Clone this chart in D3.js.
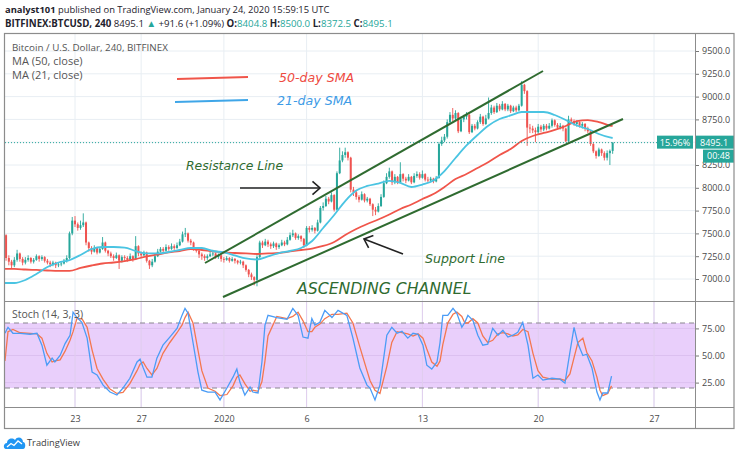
<!DOCTYPE html>
<html><head><meta charset="utf-8">
<script src="https://cdn.jsdelivr.net/npm/d3@7"></script>
<style>body{margin:0;background:#fff}svg{display:block}</style>
</head><body><svg id="c" width="740" height="457"></svg>
<script>
// ---------- DATA (BITFINEX:BTCUSD 240, first candle 2019-12-18 16:00 UTC) ----------
const firstOpen = 6990;
const closes = [
7480,7230,
7190,7150,7210,7280,7220,7180, 7210,7230,7190,7210,7250,7220, 7240,7200,7180,7160,7180,7150,
7160,7170,7200,7230,7500,7640, 7600,7560,7590,7620,7400,7340, 7300,7340,7290,7330,7400,7310,
7280,7250,7230,7260,7200,7240, 7230,7210,7250,7220,7360,7280, 7260,7290,7200,7150,7190,7250,
7300,7330,7310,7350,7330,7360, 7340,7370,7410,7490,7500,7420, 7400,7330,7310,7270,7250,7230,
7250,7270,7280,7240,7260,7220, 7210,7230,7200,7220,7200,7180, 7190,7150,7100,7050,7020,6990,
7240,7400,7370,7410,7380,7360, 7390,7350,7370,7400,7380,7430, 7480,7500,7450,7470,7440,7370,
7560,7540,7560,7530,7620,7780, 7800,7880,7850,7920,7760,8160, 8300,8360,8390,8330,7980,7950,
7900,7870,7930,7860,7880,7820, 7760,7740,7800,7900,8050,8120, 8180,8060,8120,8060,8150,8100,
8080,8120,8060,8130,8150,8110, 8150,8090,8080,8100,8070,8110, 8480,8520,8560,8720,8800,8760,
8820,8620,8750,8780,8800,8610, 8680,8650,8720,8780,8700,8760, 8820,8880,8830,8900,8860,8920,
8860,8900,8840,8880,8850,8900, 9130,9060,8660,8650,8630,8610, 8670,8640,8680,8650,8680,8740,
8690,8660,8680,8650,8510,8750, 8730,8700,8720,8680,8700,8650, 8620,8480,8400,8350,8420,8380,
8330,8380,8404.8,8495.1];
const highs = [
7510,7490,
7260,7210,7240,7320,7290,7240, 7240,7260,7240,7230,7270,7260, 7260,7250,7220,7200,7200,7190,
7180,7190,7220,7260,7520,7680, 7690,7620,7640,7720,7630,7410, 7360,7370,7350,7350,7460,7410,
7320,7300,7270,7290,7270,7260, 7260,7250,7280,7260,7470,7370, 7300,7310,7300,7210,7220,7280,
7330,7350,7350,7380,7370,7390, 7380,7400,7440,7520,7560,7510, 7440,7410,7350,7320,7290,7270,
7270,7300,7320,7290,7280,7270, 7240,7250,7240,7240,7230,7210, 7210,7200,7160,7110,7070,7030,
7260,7420,7420,7440,7430,7400, 7410,7400,7390,7430,7420,7460, 7510,7540,7510,7490,7480,7450,
7580,7580,7590,7570,7650,7800, 7840,7910,7900,7950,7930,8180, 8440,8400,8440,8400,8340,8010,
7970,7920,7960,7940,7900,7890, 7830,7790,7830,7930,8080,8160, 8220,8190,8150,8130,8280,8160,
8120,8150,8130,8160,8180,8170, 8190,8160,8120,8120,8110,8130, 8500,8560,8590,8750,8830,8875,
8850,8830,8780,8800,8830,8810, 8700,8700,8740,8810,8790,8800, 8990,8910,8900,8930,8920,8950,
8930,8920,8910,8900,8900,8920, 9170,9140,9070,8700,8680,8660, 8700,8690,8700,8700,8710,8760,
8750,8710,8710,8690,8660,8790, 8770,8750,8740,8730,8720,8710, 8670,8630,8490,8410,8440,8430,
8400,8410,8420,8500];
const lows = [
6970,7200,
7150,7110,7130,7190,7190,7150, 7160,7190,7170,7170,7200,7190, 7200,7180,7160,7130,7140,7120,
7130,7140,7160,7180,7220,7480, 7570,7530,7540,7570,7370,7300, 7270,7290,7270,7280,7320,7290,
7250,7230,7200,7220,7110,7180, 7200,7190,7200,7190,7210,7250, 7230,7250,7180,7110,7130,7180,
7240,7290,7290,7300,7310,7320, 7320,7330,7360,7400,7460,7400, 7370,7310,7290,7230,7210,7200,
7210,7240,7250,7220,7220,7190, 7180,7200,7180,7190,7170,7160, 7160,7120,7080,7020,6990,6930,
6920,7230,7340,7360,7350,7330, 7340,7320,7330,7360,7360,7370, 7420,7460,7430,7430,7410,7340,
7360,7510,7520,7500,7520,7610, 7750,7790,7820,7840,7740,7750, 8150,8280,8330,8300,7950,7910,
7870,7840,7860,7840,7840,7800, 7690,7700,7730,7790,7890,8040, 8100,8030,8040,8040,8050,8070,
8050,8070,8040,8050,8110,8090, 8100,8070,8060,8060,8050,8060, 8100,8460,8500,8540,8700,8730,
8740,8600,8610,8720,8750,8590, 8600,8630,8640,8700,8680,8690, 8750,8800,8810,8820,8840,8850,
8840,8840,8820,8830,8830,8840, 8890,9030,8460,8600,8600,8500, 8590,8610,8620,8630,8640,8660,
8670,8640,8640,8620,8500,8500, 8700,8680,8670,8660,8650,8620, 8600,8460,8380,8320,8340,8350,
8300,8300,8250,8372.5];

// moving averages, read at every 4th candle (plus the last one)
const maIdx = [0,4,8,12,16,20,24,28,32,36,40,44,48,52,56,60,64,68,72,76,80,84,88,92,96,100,104,108,
112,116,120,124,128,132,136,140,144,148,152,156,160,164,168,172,176,180,184,188,192,196,200,204,208,212,216,220,221];
const ma21 = [6956,6956,6989,7055,7132,7181,7208,7263,7329,7351,7351,7345,7307,7280,7280,7296,7318,7340,7340,7307,
7291,7258,7225,7214,7247,7285,7307,7340,7417,7559,7702,7855,7970,8020,8047,8075,8053,8009,8036,8080,
8184,8327,8464,8579,8683,8754,8793,8831,8831,8831,8798,8743,8683,8645,8590,8552,8546];
const ma50 = [7110,7110,7104,7099,7093,7088,7088,7121,7148,7170,7181,7197,7219,7247,7269,7291,7307,7329,7318,7302,
7291,7285,7280,7274,7280,7285,7302,7318,7334,7362,7406,7482,7548,7603,7652,7707,7768,7817,7877,7932,
8009,8096,8151,8217,8283,8360,8425,8513,8568,8601,8634,8678,8732,8743,8721,8683,8678];

// stochastic (14,3,3), read at candle positions
const stochIdx = [0.6,1.7,3.5,6.1,9.7,12.2,14.0,15.8,17.7,18.7,20.6,22.4,24.2,25.3,26.7,28.5,30.4,32.2,34.0,36.2,
38.7,41.2,43.4,45.9,48.5,49.6,50.7,52.1,53.9,55.7,57.9,60.4,63.0,64.8,65.9,67.0,68.8,70.6,72.0,74.2,
76.8,78.6,81.1,83.3,84.7,85.8,87.6,89.5,90.5,92.4,93.8,94.9,96.0,99.2,102.9,105.0,106.9,108.7,110.5,111.9,
113.0,114.8,116.6,119.2,121.4,124.6,126.8,129.3,131.9,133.0,134.8,136.6,139.1,140.9,142.8,144.6,146.7,148.6,150.4,152.2,
153.6,155.4,157.3,158.4,159.4,161.2,163.1,164.5,166.3,167.4,168.5,170.3,172.1,173.9,175.7,177.5,179.4,181.2,183.0,184.8,
186.6,188.4,190.3,192.1,193.9,195.7,199.0,201.9,203.7,205.5,207.0,208.4,210.2,211.6,213.5,215.3,216.4,217.4,219.2,220.6];
const stochK = [70.5,76,70.5,70.5,69.6,70.5,59.5,41,47.5,44,50,61,68.7,90,85,80.6,66,34.7,32,22.7,
16.3,13.5,20,29,44,46.6,39,30,30,47.5,59.5,67,75,87,93.5,89,62,34.7,18,16.3,
16.3,9,20,30,37.5,25.5,13.5,21,16.3,15.4,44,78,87,85,83.4,93.5,87,67,66,84,
78,80.6,91.6,85,91.6,87,66,38.5,22.7,20,9,22.7,68.7,76,70.5,72.3,66,70.5,69.6,59.5,
41,37.5,44,62,87,87,93.5,89,76,80.6,87,82.4,68.7,59.5,60.4,75,68.7,73.3,67,68.7,
71.4,80.6,59.5,29,32,27.3,29,28.2,24.5,53,76,61,50,51.2,38.5,16.3,9,15.4,15.4,31];
const stochD = [45,72,74,71,70.5,70,66,52,44,45,46,54,64,72,84,84,76,55,38,28,
19,15,16,24,36,42,44,38,32,38,52,62,71,78,85,90,80,55,36,20,
17,13,14,22,30,32,24,17,18,17,26,45,68,86,84,86,90,82,72,72,
76,79,84,88,88,89,80,58,36,27,18,15,40,62,72,71,70,68,70,66,
56,44,40,45,60,80,88,90,86,80,80,84,80,68,62,64,70,71,70,68,
69,74,72,52,36,30,28,28.5,27,33,48,62,66,53,45,30,18,13,15,22];

const priceTicks = [7000,7250,7500,7750,8000,8250,8500,8750,9000,9250,9500];
const stochTicks = [25,50,75];
const timeTicks = ["2019-12-23","2019-12-27","2020-01-01","2020-01-06","2020-01-13","2020-01-20","2020-01-27"];
const timeLabels = ["23","27","2020","6","13","20","27"];
const lastPrice = 8495.1;

// ---------- LAYOUT ----------
const svg = d3.select("#c");
const L = 5, R = 695, T = 33, MB = 301, SB = 407, BB = 428.5, FR = 734;
const FONT = "'Open Sans', 'Liberation Sans', sans-serif";
const t0 = Date.UTC(2019, 11, 18, 16);
const H4 = 4 * 3600e3;
const x = d3.scaleUtc().domain([new Date(Date.UTC(2019,11,23)), new Date(Date.UTC(2020,0,27))]).range([75, 654]);
const xi = i => x(new Date(t0 + i * H4));
const y = d3.scaleLinear().domain([7000, 9500]).range([279, 51]);
const ys = d3.scaleLinear().domain([0, 100]).range([409.7, 301.3]);

svg.append("rect").attr("width", 740).attr("height", 457).attr("fill", "#fff");
const defs = svg.append("defs");
defs.append("clipPath").attr("id", "cm").append("rect").attr("x", L).attr("y", T).attr("width", R - L).attr("height", MB - T);
defs.append("clipPath").attr("id", "cs").append("rect").attr("x", L).attr("y", MB).attr("width", R - L).attr("height", SB - MB);

// grid
const grid = svg.append("g").attr("stroke", "#e8eef3").attr("stroke-width", 1);
priceTicks.forEach(p => grid.append("line").attr("x1", L).attr("x2", R).attr("y1", y(p)).attr("y2", y(p)));
timeTicks.forEach(d => { const xx = x(new Date(d + "T00:00:00Z"));
  grid.append("line").attr("x1", xx).attr("x2", xx).attr("y1", T).attr("y2", SB); });

// stoch band
const sg = svg.append("g").attr("clip-path", "url(#cs)");
sg.append("rect").attr("x", L).attr("width", R - L).attr("y", ys(80)).attr("height", ys(20) - ys(80)).attr("fill", "#e9cffb");
stochTicks.forEach(v => sg.append("line").attr("x1", L).attr("x2", R).attr("y1", ys(v)).attr("y2", ys(v)).attr("stroke", "#dcc0f0"));
timeTicks.forEach(d => { const xx = x(new Date(d + "T00:00:00Z"));
  sg.append("line").attr("x1", xx).attr("x2", xx).attr("y1", MB).attr("y2", SB).attr("stroke", "#e0cdee"); });
[80, 20].forEach(v => sg.append("line").attr("x1", L).attr("x2", R).attr("y1", ys(v)).attr("y2", ys(v))
  .attr("stroke", "#8a8590").attr("stroke-width", 1.2).attr("stroke-dasharray", "5,4"));
const sline = vals => d3.line().x((d, i) => xi(stochIdx[i])).y(d => ys(d))(vals);
sg.append("path").attr("d", sline(stochD)).attr("fill", "none").attr("stroke", "#f4774f").attr("stroke-width", 1.3);
sg.append("path").attr("d", sline(stochK)).attr("fill", "none").attr("stroke", "#4b9cf6").attr("stroke-width", 1.3);

// candles
const mg = svg.append("g").attr("clip-path", "url(#cm)");
const GREEN = "#26a69a", RED = "#ef5350";
closes.forEach((c, i) => {
  const o = i === 0 ? firstOpen : closes[i - 1];
  const col = c >= o ? GREEN : RED;
  const cx = xi(i);
  mg.append("line").attr("x1", cx).attr("x2", cx).attr("y1", y(highs[i])).attr("y2", y(lows[i])).attr("stroke", col).attr("stroke-width", 0.9);
  const top = y(Math.max(o, c)), bot = y(Math.min(o, c));
  mg.append("rect").attr("x", cx - 1).attr("width", 2).attr("y", top).attr("height", Math.max(0.8, bot - top)).attr("fill", col);
});

// moving averages
const mline = vals => d3.line().curve(d3.curveMonotoneX).x((d, i) => xi(maIdx[i])).y(d => y(d))(vals);
mg.append("path").attr("d", mline(ma50)).attr("fill", "none").attr("stroke", "#f0554a").attr("stroke-width", 1.8);
mg.append("path").attr("d", mline(ma21)).attr("fill", "none").attr("stroke", "#4ac4e2").attr("stroke-width", 1.8);

// last price dotted line
mg.append("line").attr("x1", L).attr("x2", 657).attr("y1", y(lastPrice)).attr("y2", y(lastPrice))
  .attr("stroke", GREEN).attr("stroke-width", 1).attr("stroke-dasharray", "1,2");

// channel lines
const DG = "#2f6b30";
const ann = svg.append("g");
ann.append("line").attr("x1", 205).attr("y1", 263).attr("x2", 543).attr("y2", 71).attr("stroke", DG).attr("stroke-width", 2);
ann.append("line").attr("x1", 223).attr("y1", 297).attr("x2", 623).attr("y2", 119).attr("stroke", DG).attr("stroke-width", 2);

// legend-lines for SMAs
ann.append("line").attr("x1", 177).attr("y1", 79).attr("x2", 248).attr("y2", 77).attr("stroke", "#f0554a").attr("stroke-width", 2);
ann.append("line").attr("x1", 175).attr("y1", 102).attr("x2", 248).attr("y2", 100).attr("stroke", "#3fa6e8").attr("stroke-width", 2);
const AF = "'DejaVu Sans', Verdana, sans-serif";
const atext = (t, xx, yy, size, col) => ann.append("text").attr("x", xx).attr("y", yy).attr("font-family", AF)
  .attr("font-style", "italic").attr("font-size", size).attr("fill", col).text(t);
atext("50-day SMA", 279, 82, 12.6, "#ee4b3f");
atext("21-day SMA", 277, 105, 12.6, "#3d9be6");
atext("Resistance Line", 186, 170, 12.4, DG);
atext("Support Line", 425, 263, 12.6, DG);
atext("ASCENDING CHANNEL", 297, 294, 15.7, DG);

// arrows
function arrow(x1, y1, x2, y2) {
  const a = Math.atan2(y2 - y1, x2 - x1), len = 10, sp = 0.72;
  ann.append("line").attr("x1", x1).attr("y1", y1).attr("x2", x2).attr("y2", y2).attr("stroke", "#222").attr("stroke-width", 1.6);
  const p = [[x2 - len * Math.cos(a - sp), y2 - len * Math.sin(a - sp)], [x2, y2], [x2 - len * Math.cos(a + sp), y2 - len * Math.sin(a + sp)]];
  ann.append("path").attr("d", d3.line()(p)).attr("fill", "none").attr("stroke", "#222").attr("stroke-width", 1.6);
}
arrow(240, 188, 320, 188);
arrow(403, 254, 364, 239);

// axes
const TXT = "#4a4a4a";
const ay = svg.append("g").attr("transform", `translate(${R},0)`)
  .call(d3.axisRight(y).tickValues(priceTicks).tickFormat(d3.format(".1f")).tickSize(4).tickPadding(3));
const as = svg.append("g").attr("transform", `translate(${R},0)`)
  .call(d3.axisRight(ys).tickValues(stochTicks).tickFormat(d3.format(".2f")).tickSize(4).tickPadding(3));
const ax = svg.append("g").attr("transform", `translate(0,${SB})`)
  .call(d3.axisBottom(x).tickValues(timeTicks.map(d => new Date(d + "T00:00:00Z"))).tickFormat((d, i) => timeLabels[i]).tickSize(0).tickPadding(9));
[ay, as, ax].forEach(g => {
  g.select(".domain").remove();
  g.selectAll("line").attr("stroke", "#777");
  g.selectAll("text").attr("font-family", FONT).attr("font-size", 9).attr("fill", TXT);
});
// the tick label hidden behind the last-price label
ay.selectAll(".tick").filter(d => Math.abs(y(d) - y(lastPrice)) < 8).select("text").remove();

// price labels on the axis
const lp = y(lastPrice);
svg.append("rect").attr("x", 657).attr("y", lp - 7).attr("width", 36).attr("height", 13).attr("fill", GREEN);
svg.append("text").attr("x", 675).attr("y", lp + 3).attr("text-anchor", "middle").attr("font-family", FONT).attr("font-size", 9).attr("fill", "#fff").text("15.96%");
svg.append("rect").attr("x", 696).attr("y", lp - 7).attr("width", 38).attr("height", 13).attr("fill", GREEN);
svg.append("text").attr("x", 700).attr("y", lp + 3).attr("font-family", FONT).attr("font-size", 9).attr("fill", "#fff").text("8495.1");
svg.append("rect").attr("x", 703).attr("y", lp + 7).attr("width", 31).attr("height", 13).attr("fill", GREEN);
svg.append("text").attr("x", 718.5).attr("y", lp + 16.5).attr("text-anchor", "middle").attr("font-family", FONT).attr("font-size", 9).attr("fill", "#fff").text("00:48");

// frame
const fr = svg.append("g").attr("stroke", "#8c8c8c").attr("fill", "none");
fr.append("rect").attr("x", 4.5).attr("y", 33.5).attr("width", FR - 4.5).attr("height", BB - 33.5).attr("stroke-width", 1.2);
fr.append("line").attr("x1", 4.5).attr("x2", FR).attr("y1", MB + 0.5).attr("y2", MB + 0.5);
fr.append("line").attr("x1", 4.5).attr("x2", FR).attr("y1", SB + 0.5).attr("y2", SB + 0.5);
fr.append("line").attr("x1", R + 0.5).attr("x2", R + 0.5).attr("y1", 33.5).attr("y2", BB);

// fit a text's natural width to a target by adjusting its font size
function fitWidth(sel, target) {
  const w = sel.node().getComputedTextLength();
  const fs = parseFloat(sel.attr("font-size"));
  if (w > 0) sel.attr("font-size", (fs * target / w).toFixed(2));
  return sel;
}

// pane legends
const lg = (t, xx, yy, size) => svg.append("text").attr("x", xx).attr("y", yy).attr("font-family", FONT).attr("font-size", size).attr("fill", "#555").text(t);
fitWidth(lg("Bitcoin / U.S. Dollar, 240, BITFINEX", 12, 50.5, 11), 156);
lg("MA (50, close)", 12, 64.5, 11);
lg("MA (21, close)", 12, 78.5, 11);
lg("Stoch (14, 3, 3)", 12, 318, 10.5);

// header
const HF = "'Liberation Sans Narrow', 'Open Sans', sans-serif";
const h1 = svg.append("text").attr("x", 5).attr("y", 13).attr("font-family", HF).attr("font-size", 12).attr("fill", "#1e222d");
h1.append("tspan").attr("font-weight", "bold").text("analyst101");
h1.append("tspan").text(" published on TradingView.com, January 24, 2020 15:59:15 UTC");
fitWidth(h1, 325);
const h2 = svg.append("text").attr("x", 5).attr("y", 27).attr("font-family", HF).attr("font-size", 12).attr("fill", "#1e222d");
[["BITFINEX:BTCUSD, 240", "b"], [" 8495.1 ", ""], ["\u25B2", "g"], [" +91.6 (+1.09%) ", ""], ["O:", "b"], ["8404.8", "g"],
 [" H:", "b"], ["8500.0", "g"], [" L:", "b"], ["8372.5", "g"], [" C:", "b"], ["8495.1", "g"]].forEach(([t, s]) => {
  const ts = h2.append("tspan").text(t);
  if (s === "b") ts.attr("font-weight", "bold");
  if (s === "g") ts.attr("fill", GREEN);
});
fitWidth(h2, 388);

// TradingView logo
const logo = svg.append("g");
logo.append("path").attr("fill", "#2196f3")
  .attr("d", "M6,449 C3,449 3,443 7,443 C7,439 12,437 15,440 C17,436 23,437 23,442 C26,442 26,449 23,449 Z");
logo.append("path").attr("fill", "none").attr("stroke", "#fff").attr("stroke-width", 1.3)
  .attr("d", "M7,447 L11,443.5 L14,445.5 L18,441 L22,444");
fitWidth(svg.append("text").attr("x", 27).attr("y", 446).attr("font-family", FONT).attr("font-size", 11).attr("fill", "#3c3c3c").text("TradingView"), 53);
</script></body></html>
